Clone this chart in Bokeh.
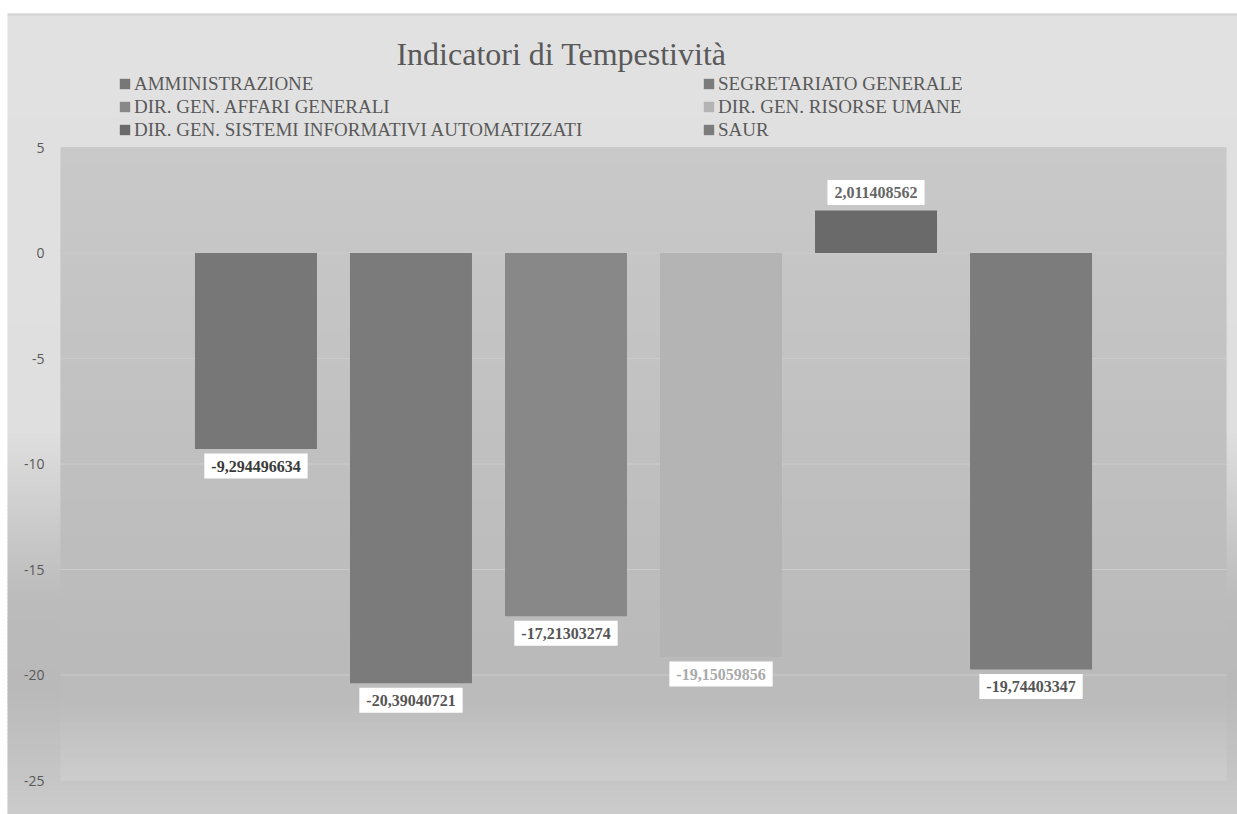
from bokeh.plotting import figure
from bokeh.models import (Range1d, FixedTicker, Legend, LegendItem, Label, BoxAnnotation,
                          ColumnDataSource, LinearAxis)
from bokeh.embed import file_html
from bokeh.resources import INLINE

# ---- data ----
series = ["AMMINISTRAZIONE", "SEGRETARIATO GENERALE", "DIR. GEN. AFFARI GENERALI",
          "DIR. GEN. RISORSE UMANE", "DIR. GEN. SISTEMI INFORMATIVI AUTOMATIZZATI", "SAUR"]
values = [-9.294496634, -20.39040721, -17.21303274, -19.15059856, 2.011408562, -19.74403347]
y_ticks = [5, 0, -5, -10, -15, -20, -25]
title_text = "Indicatori di Tempestività"

# ---- styles ----
bar_colors = ["#777777", "#7b7b7b", "#888888", "#b4b4b4", "#6a6a6a", "#7c7c7c"]
label_colors = ["#3a3a3a", "#555555", "#555555", "#aaaaaa", "#666666", "#555555"]
SERIF = "Liberation Serif"

W, H = 1237, 814
# plot-area rectangle in canvas pixels
PA_L, PA_R, PA_T, PA_B = 60, 1226, 147, 780
CH_L, CH_T = 7, 13  # chart-area top-left
X_PAD = 1.261
BAR_W = 0.787

n = len(series)
x = list(range(n))
xa0, xa1 = -X_PAD, n - 1 + X_PAD
ya0, ya1 = min(y_ticks), max(y_ticks)
sx = (PA_R - PA_L) / (xa1 - xa0)
sy = (PA_B - PA_T) / (ya1 - ya0)
x_start, x_end = xa0 - PA_L / sx, xa1 + (W - PA_R) / sx
y_start, y_end = ya0 - (H - PA_B) / sy, ya1 + PA_T / sy

p = figure(width=W, height=H, output_backend="svg", toolbar_location=None,
           x_range=Range1d(x_start, x_end), y_range=Range1d(y_start, y_end),
           x_axis_location=None, y_axis_location=None, min_border=0)
p.border_fill_color = "white"
p.background_fill_color = "white"
p.outline_line_color = None
for g in p.grid:
    g.visible = False


def interp(stops, y):
    if y <= stops[0][0]:
        return stops[0][1]
    for (y0, g0), (y1, g1) in zip(stops, stops[1:]):
        if y0 <= y <= y1:
            return g0 + (g1 - g0) * (y - y0) / (y1 - y0)
    return stops[-1][1]


def gray(g):
    g = int(round(g))
    return "#%02x%02x%02x" % (g, g, g)


def band(l, r, t, b, color):
    p.add_layout(BoxAnnotation(left=l, right=r, top=t, bottom=b,
                               left_units="canvas", right_units="canvas",
                               top_units="canvas", bottom_units="canvas",
                               fill_color=color, fill_alpha=1.0, line_color=None, level="image"))


outer_stops = [(CH_T, 0xe1), (430, 0xdf), (600, 0xbb), (690, 0xb9), (H, 0xcb)]
frame_stops = [(PA_T, 0xc9), (450, 0xc0), (650, 0xba), (700, 0xbb), (PA_B, 0xcd)]

STEP = 4
for y0 in range(CH_T, H, STEP):
    band(CH_L, W, y0, min(y0 + STEP + 1, H), gray(interp(outer_stops, y0 + STEP / 2)))
band(CH_L, W, CH_T, CH_T + 2, "#d3d3d3")
STEP2 = 3
for y0 in range(PA_T, PA_B, STEP2):
    band(PA_L, PA_R, y0, min(y0 + STEP2 + 1, PA_B), gray(interp(frame_stops, y0 + STEP2 / 2)))

# y axis drawn at the plot-area's left edge
yaxis = LinearAxis(fixed_location=xa0, ticker=FixedTicker(ticks=y_ticks),
                   major_label_overrides={t: str(t) for t in y_ticks})
yaxis.axis_line_color = None
yaxis.major_tick_line_color = None
yaxis.minor_tick_line_color = None
yaxis.major_tick_out = 0
yaxis.major_tick_in = 0
yaxis.minor_tick_out = 0
yaxis.major_label_text_font = "Open Sans"
yaxis.major_label_text_font_size = "14px"
yaxis.major_label_text_color = "#595959"
yaxis.major_label_standoff = 16
p.add_layout(yaxis, "left")

# horizontal gridlines at the tick values, across the plot area
p.segment(x0=xa0, x1=xa1, y0=y_ticks, y1=y_ticks, line_color="#cbcbcb", line_width=1)

# bars
src = ColumnDataSource(dict(x=x, top=values, color=bar_colors, name=series))
r = p.vbar(x="x", top="top", bottom=0, width=BAR_W, fill_color="color", line_color=None, source=src)

# legends (two columns)
ROW_H = 23
for idxs, lx in (((0, 2, 4), 118), ((1, 3, 5), 702)):
    items = [LegendItem(label=series[i], renderers=[r], index=i) for i in idxs]
    leg = Legend(items=items, location=(lx, H - (72 + 3 * ROW_H)), orientation="vertical",
                 glyph_width=13, glyph_height=13, label_standoff=3, label_height=ROW_H,
                 label_text_font=SERIF, label_text_font_size="19px", label_text_color="#595959",
                 spacing=0, padding=0, margin=0, border_line_color=None, background_fill_alpha=0)
    p.add_layout(leg)

# title
p.add_layout(Label(x=561, y=53, x_units="canvas", y_units="canvas", text=title_text,
                   text_align="center", text_baseline="alphabetic", text_font=SERIF,
                   text_font_size="32px", text_color="#595959"))

# data labels
for i, v in enumerate(values):
    txt = f"{v:.10g}".replace(".", ",")
    p.add_layout(Label(x=x[i], y=v, y_offset=(-17 if v < 0 else 18), text=txt,
                       text_align="center", text_baseline="middle", text_font=SERIF,
                       text_font_style="bold", text_font_size="16px", text_color=label_colors[i],
                       background_fill_color="white", background_fill_alpha=1.0,
                       border_line_color=None, padding=(7, 7)))

open("out.html", "w").write(file_html(p, INLINE))
